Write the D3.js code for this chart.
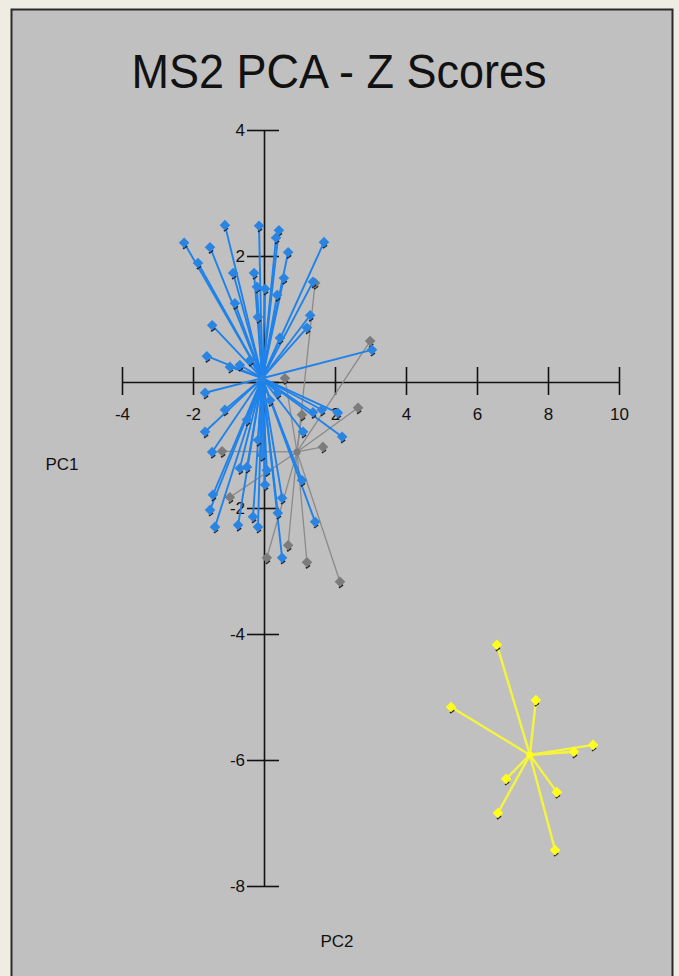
<!DOCTYPE html>
<html>
<head>
<meta charset="utf-8">
<script src="https://cdn.jsdelivr.net/npm/d3@7"></script>
<style>
  body { margin: 0; background: #eeece3; }
  svg { display: block; }
  text { font-family: "Liberation Sans", Arial, sans-serif; fill: #111; }
</style>
</head>
<body>
<svg id="chart"></svg>
<script>
// PCA scores (PC1, PC2) per group, with the group centroid each point is linked to
const blueCenter = [-0.05, 0.06];
const blueX = [-2.25, -1.10, -1.52, -1.86, -0.14, 0.42, 0.34, 1.69, 0.68, -0.87, -0.28, 0.56, 1.38,
  -0.20, 0.03, 0.37, -0.82, -0.17, 1.30, -1.46, 1.21, 0.45, -1.61, -0.96, -0.68, -1.66, -1.10,
  -1.66, -1.46, -0.48, -0.68, -0.48, -1.44, -1.52, -1.38, -0.73, -0.17, -0.31, 0.08, 0.03, 0.39,
  0.51, 1.07, 1.44, 0.51, 2.20, 1.10, 1.38, 1.63, 2.08, 0.39, 3.04, -0.39, 0.17, -0.17, -0.06];
const blueY = [2.21, 2.49, 2.14, 1.89, 2.48, 2.41, 2.29, 2.22, 2.06, 1.73, 1.73, 1.65, 1.59,
  1.51, 1.48, 1.38, 1.25, 1.03, 1.06, 0.90, 0.86, 0.70, 0.41, 0.24, 0.27, -0.17, -0.44,
  -0.79, -1.11, -0.60, -1.37, -1.35, -1.79, -2.03, -2.30, -2.27, -2.30, -2.14, -1.40, -1.63, -2.08,
  -1.84, -1.56, -2.22, -2.79, -0.87, -0.79, -0.48, -0.44, -0.49, -0.17, 0.51, 0.35, -0.29, -0.92, -1.16];

const grayCenter = [0.93, -1.11];
const grayX = [1.44, 2.99, 2.65, 1.07, 1.66, -1.18, -0.96, 0.08, 0.68, 1.21, 2.14, 0.59];
const grayY = [1.57, 0.65, -0.41, -0.52, -1.03, -1.10, -1.83, -2.79, -2.59, -2.86, -3.17, 0.06];

const yellowCenter = [7.49, -5.92];
const yellowX = [6.56, 7.66, 5.27, 9.27, 8.73, 6.82, 8.25, 6.59, 8.20];
const yellowY = [-4.17, -5.05, -5.16, -5.76, -5.87, -6.30, -6.51, -6.84, -7.43];

const xTicks = [-4, -2, 0, 2, 4, 6, 8, 10];
const yTicks = [4, 2, 0, -2, -4, -6, -8];

const width = 679;
const height = 976;

const svg = d3.select("#chart")
    .attr("width", width)
    .attr("height", height);

// grey panel with dark frame (bottom edge runs off the page)
svg.append("rect")
    .attr("x", 11.5)
    .attr("y", 9.5)
    .attr("width", 661)
    .attr("height", 1000)
    .attr("fill", "#c0c0c0")
    .attr("stroke", "#2a2a2a")
    .attr("stroke-width", 2);

// title is a little taller than plain Arial in the original
svg.append("text")
    .attr("transform", "translate(339, 88) scale(1, 1.06)")
    .attr("text-anchor", "middle")
    .attr("font-size", "45px")
    .attr("fill", "#0d0d0d")
    .text("MS2 PCA - Z Scores");

// scales
const x = d3.scaleLinear().domain([-4, 10]).range([122, 619]);
const y = d3.scaleLinear().domain([-8, 4]).range([886, 130]);

// x axis through the origin, ticks crossing both sides
const xAxis = svg.append("g")
    .attr("transform", `translate(0, ${y(0)})`)
    .call(d3.axisBottom(x).tickValues(xTicks).tickSizeOuter(0)
        .tickFormat(d => d === 0 ? "" : d));
xAxis.select(".domain").attr("stroke", "#111").attr("stroke-width", 1.6);
xAxis.selectAll(".tick line")
    .attr("y1", -15).attr("y2", 13)
    .attr("stroke", "#111").attr("stroke-width", 1.6);
xAxis.selectAll(".tick text")
    .attr("y", 26)
    .attr("font-size", "17px")
    .attr("font-family", "Liberation Sans, Arial, sans-serif")
    .attr("fill", "#111");

// y axis through the origin
const yAxis = svg.append("g")
    .attr("transform", `translate(${x(0)}, 0)`)
    .call(d3.axisLeft(y).tickValues(yTicks).tickSizeOuter(0)
        .tickFormat(d => d === 0 ? "" : d));
yAxis.select(".domain").attr("stroke", "#111").attr("stroke-width", 1.6);
yAxis.selectAll(".tick line")
    .attr("x1", -17).attr("x2", 15)
    .attr("stroke", "#111").attr("stroke-width", 1.6);
yAxis.selectAll(".tick text")
    .attr("x", -19)
    .attr("font-size", "17px")
    .attr("font-family", "Liberation Sans, Arial, sans-serif")
    .attr("fill", "#111");

svg.append("text")
    .attr("x", 62)
    .attr("y", 470)
    .attr("text-anchor", "middle")
    .attr("font-size", "17px")
    .text("PC1");

svg.append("text")
    .attr("x", 337)
    .attr("y", 947)
    .attr("text-anchor", "middle")
    .attr("font-size", "17px")
    .text("PC2");

// star plot: a line from the centroid to each member, then the markers
const marker = d3.symbol(d3.symbolSquare).size(56);

function drawGroup(xs, ys, center, lineColor, lineWidth, fillColor) {
    const pts = xs.map((v, i) => ({ x: v, y: ys[i] }));
    const g = svg.append("g");

    g.selectAll("line")
        .data(pts)
        .enter()
        .append("line")
        .attr("x1", x(center[0]))
        .attr("y1", y(center[1]))
        .attr("x2", d => x(d.x))
        .attr("y2", d => y(d.y))
        .attr("stroke", lineColor)
        .attr("stroke-width", lineWidth);

    // small dark shadow tick under each marker
    g.selectAll(".shadow")
        .data(pts)
        .enter()
        .append("path")
        .attr("class", "shadow")
        .attr("d", d => `M${x(d.x) - 1},${y(d.y) + 6}l4,-3`)
        .attr("stroke", "#222")
        .attr("stroke-width", 1.8);

    g.selectAll(".mark")
        .data(pts)
        .enter()
        .append("path")
        .attr("class", "mark")
        .attr("d", marker)
        .attr("transform", d => `translate(${x(d.x)}, ${y(d.y)}) rotate(45)`)
        .attr("fill", fillColor);

    g.append("circle")
        .attr("cx", x(center[0]))
        .attr("cy", y(center[1]))
        .attr("r", 3.5)
        .attr("fill", fillColor);
}

drawGroup(grayX, grayY, grayCenter, "#8a8a8a", 1.3, "#7c7c7c");
drawGroup(blueX, blueY, blueCenter, "#1f82ea", 1.9, "#2a84e2");
drawGroup(yellowX, yellowY, yellowCenter, "#f4f440", 2.4, "#ffff1e");
</script>
</body>
</html>
